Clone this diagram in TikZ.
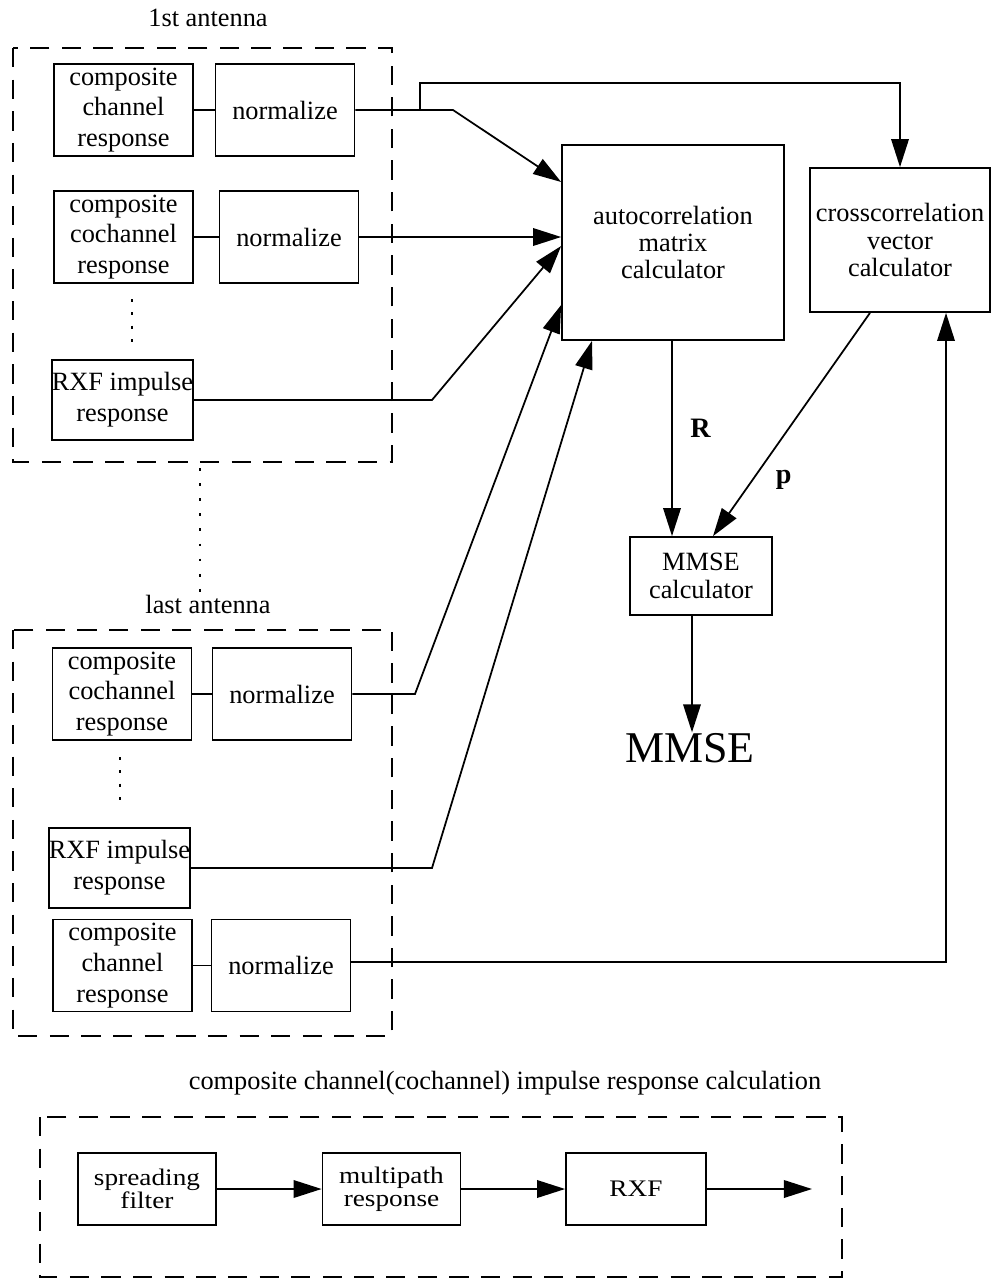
\documentclass[tikz,border=0pt]{standalone}
\usepackage{fontspec}
\setmainfont{Liberation Serif}
\newfontfamily\widefont[FakeStretch=1.15]{Liberation Serif}
\usetikzlibrary{arrows.meta}

\begin{document}
\begin{tikzpicture}[
    x=0.02cm, y=-0.02cm,
    line width=1pt,
    every node/.style={inner sep=0pt, align=center},
    blk/.style={draw, minimum width=2.78cm, minimum height=1.84cm, font=\fontsize{15}{17.5}\selectfont},
    rxfblk/.style={blk, minimum height=1.6cm},
    bigblk/.style={draw, font=\fontsize{15}{15.5}\selectfont},
    lowblk/.style={draw, minimum width=2.76cm, minimum height=1.44cm, font=\widefont\fontsize{13.5}{13}\selectfont},
    frame/.style={dash pattern=on 11pt off 7pt},
    lbl/.style={font=\fontsize{15}{17}\selectfont},
    arr/.style={-{Triangle[length=16pt,width=10pt]}}
]
\useasboundingbox (0,0) rectangle (998,1288);

% 1st antenna
\node[lbl] (lab1) at (208,18) {1st antenna};
\draw[frame] (13,48) rectangle (392,462);
\node[blk] (a1) at (123.5,110) {composite\\channel\\response};
\node[blk] (n1) at (285,110) {normalize};
\node[blk] (b1) at (123.5,237) {composite\\cochannel\\response};
\node[blk] (n2) at (289,237) {normalize};
\node[rxfblk] (r1) at (122.5,400) {RXF impulse\\response};
\draw[dash pattern=on 1.6pt off 6pt] (132,299) -- (132,352);

\draw (a1) -- (n1);
\draw (b1) -- (n2);

\draw[dash pattern=on 1.6pt off 7pt] (200,468) -- (200,592);

% last antenna
\node[lbl] (lab2) at (208,604) {last antenna};
\draw[frame] (13,630) rectangle (392,1036);
\node[blk] (c1) at (122,694) {composite\\cochannel\\response};
\node[blk] (n3) at (282,694) {normalize};
\node[rxfblk] (r2) at (119.5,868) {RXF impulse\\response};
\node[blk] (d1) at (122.5,965.5) {composite\\channel\\response};
\node[blk] (n4) at (281,965.5) {normalize};
\draw[dash pattern=on 1.6pt off 6pt] (120,757) -- (120,810);

\draw (c1) -- (n3);
\draw (d1) -- (n4);

% calculators
\node[bigblk, minimum width=4.44cm, minimum height=3.9cm] (ac) at (673,242.5) {autocorrelation\\matrix\\calculator};
\node[bigblk, minimum width=3.6cm, minimum height=2.88cm] (cc) at (900,240) {crosscorrelation\\vector\\calculator};
\node[draw, minimum width=2.84cm, minimum height=1.56cm, font=\fontsize{15}{16}\selectfont] (mc) at (701,576) {MMSE\\calculator};
\node[font=\fontsize{25}{25}\selectfont] (out) at (690,748) {MMSE};

\coordinate (k1) at (453,110);
\coordinate (t1) at (420,110);
\coordinate (t2) at (420,83);
\coordinate (k2) at (432,400);
\coordinate (k3) at (415,694);
\coordinate (k4) at (432,868);
\coordinate (k5) at (946,962);

\draw[arr] (n1.east) -- (k1) -- (ac.west |- 0,182);
\draw[arr] (t1) -- (t2) -| (cc.north);
\draw[arr] (n2.east) -- (n2.east -| ac.west);
\draw[arr] (r1.east) -- (k2) -- (ac.west |- 0,246);
\draw[arr] (n3.east) -- (k3) -- (ac.west |- 0,305);
\draw[arr] (r2.east) -- (k4) -- (ac.south -| 592,0);
\draw[arr] (n4.east |- k5) -- (k5) -- (cc.south -| k5);

\draw[arr] (ac.south -| 672,0) -- (mc.north -| 672,0)
    node[pos=0.45, right=10pt, font=\fontsize{16}{16}\bfseries] {R};
\draw[arr] (cc.south -| 870,0) -- (mc.north -| 713,0)
    node[pos=0.75, right=13pt, font=\fontsize{16}{16}\bfseries] {p};
\draw[arr] (mc.south -| 692,0) -- (out.north -| 692,0);

% impulse response calculation
\node[lbl] (lab3) at (505,1083) {composite channel(cochannel) impulse response calculation};
\draw[frame] (40,1117) rectangle (842,1277);
\node[lowblk] (sf) at (147,1189) {spreading\\filter};
\node[lowblk] (mp) at (391.5,1189) {multipath\\response};
\node[lowblk, minimum width=2.8cm] (rx) at (636,1189) {RXF};
\coordinate (end) at (812,1189);

\draw[arr] (sf) -- (mp);
\draw[arr] (mp) -- (rx);
\draw[arr] (rx) -- (end);

\end{tikzpicture}
\end{document}
